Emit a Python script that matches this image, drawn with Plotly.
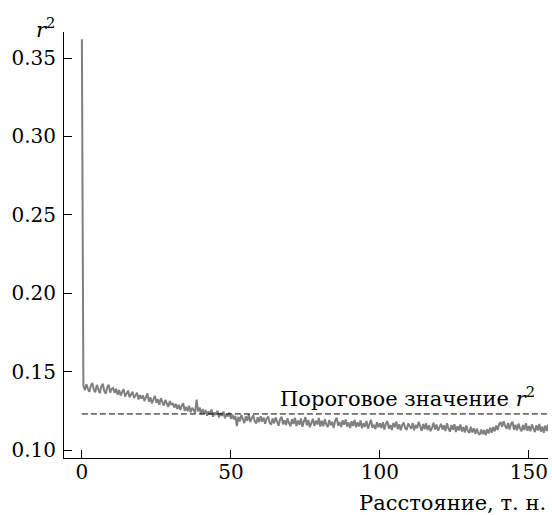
import numpy as np
import plotly.graph_objects as go

# --- data ---------------------------------------------------------------
x_head = [0.0, 0.15, 0.3]
r2_head = [0.362, 0.249, 0.162]

# body sampled every 0.5 units from 0.5 to 157.0
x_body = np.arange(1, 315) * 0.5
r2_body = [
    0.1412, 0.1381, 0.1420, 0.1392, 0.1371, 0.1409, 0.1428, 0.1385, 0.1368, 0.1415, 0.1390, 0.1362, 0.1404, 0.1423, 0.1379, 0.1359, 0.1398, 0.1417, 0.1366, 0.1389,
    0.1395, 0.1364, 0.1391, 0.1352, 0.1383, 0.1347, 0.1370, 0.1388, 0.1341, 0.1362, 0.1379, 0.1336, 0.1358, 0.1372, 0.1331, 0.1349, 0.1366, 0.1322, 0.1350, 0.1327,
    0.1348, 0.1312, 0.1339, 0.1361, 0.1308, 0.1336, 0.1297, 0.1329, 0.1346, 0.1301, 0.1323, 0.1289, 0.1331, 0.1306, 0.1284, 0.1319, 0.1293, 0.1275, 0.1312, 0.1287,
    0.1299, 0.1271, 0.1294, 0.1262, 0.1288, 0.1256, 0.1281, 0.1298, 0.1250, 0.1276, 0.1247, 0.1283, 0.1241, 0.1269, 0.1255, 0.1238, 0.1322, 0.1246, 0.1271, 0.1229,
    0.1262, 0.1231, 0.1255, 0.1219, 0.1248, 0.1226, 0.1259, 0.1212, 0.1240, 0.1223, 0.1251, 0.1207, 0.1236, 0.1218, 0.1245, 0.1203, 0.1229, 0.1214, 0.1238, 0.1199,
    0.1226, 0.1195, 0.1218, 0.1152, 0.1211, 0.1183, 0.1224, 0.1190, 0.1172, 0.1215, 0.1186, 0.1228, 0.1179, 0.1203, 0.1221, 0.1184, 0.1169, 0.1209, 0.1178, 0.1216,
    0.1181, 0.1207, 0.1168, 0.1199, 0.1214, 0.1173, 0.1162, 0.1201, 0.1170, 0.1208, 0.1176, 0.1155, 0.1196, 0.1212, 0.1164, 0.1190, 0.1159, 0.1203, 0.1171, 0.1152,
    0.1197, 0.1166, 0.1205, 0.1153, 0.1188, 0.1161, 0.1201, 0.1148, 0.1183, 0.1210, 0.1157, 0.1192, 0.1145, 0.1179, 0.1199, 0.1154, 0.1187, 0.1163, 0.1204, 0.1150,
    0.1186, 0.1152, 0.1197, 0.1163, 0.1146, 0.1191, 0.1158, 0.1180, 0.1141, 0.1188, 0.1206, 0.1155, 0.1178, 0.1147, 0.1190, 0.1161, 0.1195, 0.1149, 0.1176, 0.1140,
    0.1183, 0.1154, 0.1192, 0.1145, 0.1176, 0.1150, 0.1188, 0.1139, 0.1171, 0.1148, 0.1185, 0.1136, 0.1167, 0.1193, 0.1142, 0.1161, 0.1133, 0.1178, 0.1146, 0.1170,
    0.1140, 0.1177, 0.1131, 0.1168, 0.1184, 0.1137, 0.1160, 0.1128, 0.1172, 0.1145, 0.1181, 0.1133, 0.1164, 0.1126, 0.1158, 0.1176, 0.1139, 0.1129, 0.1169, 0.1147,
    0.1135, 0.1172, 0.1126, 0.1161, 0.1138, 0.1180, 0.1149, 0.1122, 0.1166, 0.1133, 0.1170, 0.1128, 0.1157, 0.1120, 0.1143, 0.1174, 0.1131, 0.1163, 0.1124, 0.1152,
    0.1167, 0.1130, 0.1158, 0.1121, 0.1171, 0.1136, 0.1117, 0.1160, 0.1129, 0.1165, 0.1114, 0.1152, 0.1125, 0.1163, 0.1118, 0.1147, 0.1111, 0.1156, 0.1123, 0.1109,
    0.1148, 0.1112, 0.1139, 0.1103, 0.1136, 0.1108, 0.1097, 0.1131, 0.1101, 0.1127, 0.1094, 0.1133, 0.1105, 0.1142, 0.1110, 0.1147, 0.1119, 0.1156, 0.1128, 0.1164,
    0.1178, 0.1149, 0.1183, 0.1155, 0.1136, 0.1172, 0.1131, 0.1166, 0.1180, 0.1129, 0.1161, 0.1125, 0.1168, 0.1138, 0.1120, 0.1159, 0.1127, 0.1171, 0.1122, 0.1153,
    0.1119, 0.1163, 0.1131, 0.1114, 0.1158, 0.1125, 0.1166, 0.1117, 0.1150, 0.1110, 0.1157, 0.1121, 0.1162, 0.1134,
]

threshold = 0.123
threshold_label = "Пороговое значение <i>r</i><sup>2</sup>"
x_title = "Расстояние, т. н."
y_title = "<i>r</i><sup>2</sup>"
x_ticks = [0, 50, 100, 150]
y_ticks = [0.10, 0.15, 0.20, 0.25, 0.30, 0.35]

x_range = [-6.0, 156.4]
y_range = [0.0949, 0.3666]

x_all = list(x_head) + list(x_body)
r2_all = list(r2_head) + list(r2_body)

FONT = "DejaVu Serif"
TICK_SIZE = 20
TEXT_SIZE = 21

fig = go.Figure()
fig.add_trace(go.Scatter(
    x=x_all, y=r2_all, mode="lines",
    line=dict(color="rgb(128,128,128)", width=2),
    showlegend=False, hoverinfo="skip",
))
fig.add_trace(go.Scatter(
    x=[x_all[0], x_range[1]], y=[threshold, threshold], mode="lines",
    line=dict(color="black", width=1, dash="6px,3px"),
    showlegend=False, hoverinfo="skip",
))

fig.update_layout(
    width=552, height=515,
    margin=dict(l=64, r=4, t=32, b=57),
    paper_bgcolor="white", plot_bgcolor="white",
    font=dict(family=FONT, size=TEXT_SIZE, color="black"),
    xaxis=dict(
        range=x_range, tickvals=x_ticks, ticks="inside", ticklen=8,
        tickcolor="black", tickwidth=1, showline=True, linecolor="black",
        linewidth=1, showgrid=False, zeroline=False, ticklabelstandoff=-4,
        tickfont=dict(family=FONT, size=TICK_SIZE, color="black"),
    ),
    yaxis=dict(
        range=y_range, tickvals=y_ticks, tickformat=".2f", ticks="inside",
        ticklen=8, tickcolor="black", tickwidth=1, showline=True,
        linecolor="black", linewidth=1, showgrid=False, zeroline=False,
        ticklabelstandoff=3,
        tickfont=dict(family=FONT, size=TICK_SIZE, color="black"),
    ),
    annotations=[
        dict(x=152.7, y=0.1338, xref="x", yref="y", text=threshold_label,
             showarrow=False, xanchor="right", yanchor="middle",
             font=dict(family=FONT, size=TEXT_SIZE, color="black")),
        dict(x=1.0, y=-0.106, xref="paper", yref="paper", text=x_title,
             showarrow=False, xanchor="right", yanchor="middle",
             font=dict(family=FONT, size=TEXT_SIZE, color="black")),
        dict(x=-0.039, y=1.009, xref="paper", yref="paper", text=y_title,
             showarrow=False, xanchor="center", yanchor="middle",
             font=dict(family=FONT, size=TEXT_SIZE, color="black")),
    ],
)

fig.write_html("out.html")
